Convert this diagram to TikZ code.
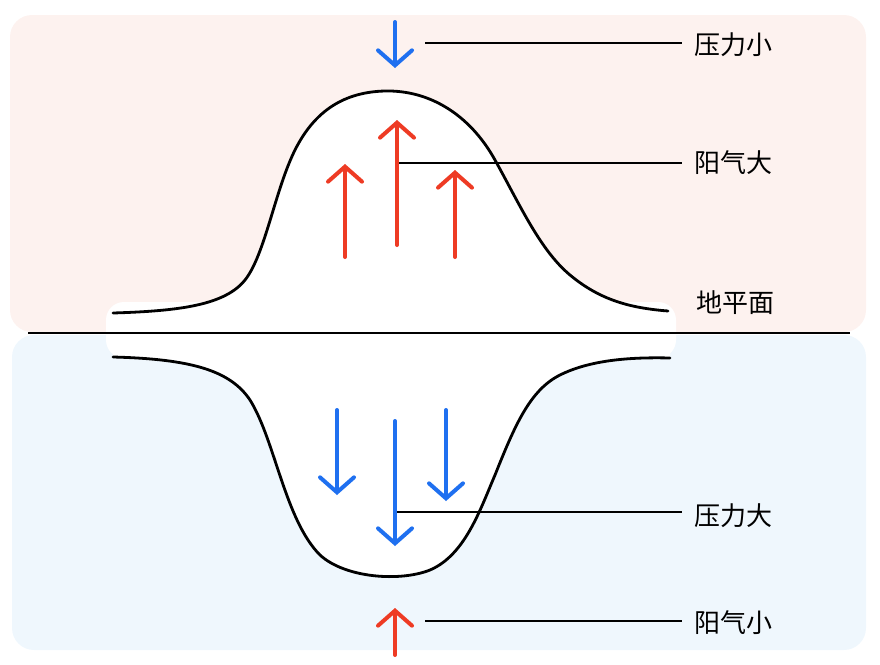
\documentclass[tikz,border=0pt]{standalone}
\usepackage{fontspec}
\newfontfamily\cjk{Noto Sans CJK SC}
\usetikzlibrary{arrows.meta}
\definecolor{warmbg}{HTML}{FDF2EF}
\definecolor{coldbg}{HTML}{EFF7FD}
\definecolor{uparr}{HTML}{EE3B24}
\definecolor{downarr}{HTML}{1F70F0}
\tikzset{
  force/.style={line width=4pt, line cap=round, line join=round,
     -{Straight Barb[length=15pt,width=34pt,line cap=round]}},
  leader/.style={line width=1.5pt},
  curve/.style={line width=2.8pt, line cap=round},
  tag/.style={anchor=west, font=\cjk\fontsize{26}{26}\selectfont, inner sep=0pt}
}
\begin{document}
\begin{tikzpicture}[x=1pt,y=-1pt]
 \useasboundingbox (0,0) rectangle (880,664);
 % backgrounds
 \fill[warmbg, rounded corners=22pt] (10,15) rectangle (866,332);
 \fill[coldbg, rounded corners=22pt] (12,335) rectangle (866,650);
 \fill[white, rounded corners=18pt] (106,302) rectangle (676,358);
 % hill above ground
 \fill[white] (113,313) .. controls (180,311) and (225,305) .. (245,280)
   .. controls (265,255) and (275,190) .. (295,150)
   .. controls (315,110) and (345,92) .. (385,91)
   .. controls (430,90) and (470,115) .. (495,160)
   .. controls (520,205) and (540,250) .. (570,275)
   .. controls (600,300) and (630,308) .. (668,311) -- (668,334) -- (113,334) -- cycle;
 \draw[curve] (113,313) .. controls (180,311) and (225,305) .. (245,280)
   .. controls (265,255) and (275,190) .. (295,150)
   .. controls (315,110) and (345,92) .. (385,91)
   .. controls (430,90) and (470,115) .. (495,160)
   .. controls (520,205) and (540,250) .. (570,275)
   .. controls (600,300) and (630,308) .. (668,311);
 % hollow below ground
 \fill[white] (113,357) .. controls (190,359) and (230,370) .. (250,400)
   .. controls (275,440) and (285,520) .. (320,555)
   .. controls (345,578) and (400,582) .. (430,570)
   .. controls (465,555) and (480,510) .. (495,475)
   .. controls (515,425) and (530,390) .. (560,375)
   .. controls (590,360) and (630,357) .. (670,358) -- (670,333) -- (113,333) -- cycle;
 \draw[curve] (113,357) .. controls (190,359) and (230,370) .. (250,400)
   .. controls (275,440) and (285,520) .. (320,555)
   .. controls (345,578) and (400,582) .. (430,570)
   .. controls (465,555) and (480,510) .. (495,475)
   .. controls (515,425) and (530,390) .. (560,375)
   .. controls (590,360) and (630,357) .. (670,358);
 % ground
 \draw[line width=2.2pt] (28,333) -- (850,333);
 \node[tag] (ground) at (696,303) {地平面};
 % labels
 \node[tag] (lowp) at (694,45) {压力小};
 \node[tag] (highy) at (694,163) {阳气大};
 \node[tag] (highp) at (694,516) {压力大};
 \node[tag] (lowy) at (694,623) {阳气小};
 \coordinate (lowpA) at (425,43);
 \coordinate (highyA) at (397,163);
 \coordinate (highpA) at (397,512);
 \coordinate (lowyA) at (425,621);
 \draw[leader] (lowpA) -- ([xshift=-12pt]lowp.west |- lowpA);
 \draw[leader] (highyA) -- ([xshift=-12pt]highy.west |- highyA);
 \draw[leader] (highpA) -- ([xshift=-12pt]highp.west |- highpA);
 \draw[leader] (lowyA) -- ([xshift=-12pt]lowy.west |- lowyA);
 % arrows
 \draw[force, downarr] (395,22) -- (395,68);
 \draw[force, uparr] (397,245) -- (397,120);
 \draw[force, uparr] (345,257) -- (345,164);
 \draw[force, uparr] (455,257) -- (455,170);
 \draw[force, downarr] (337,410) -- (337,495);
 \draw[force, downarr] (395,421) -- (395,546);
 \draw[force, downarr] (446,410) -- (446,501);
 \draw[force, uparr] (395,655) -- (395,608);
\end{tikzpicture}
\end{document}
